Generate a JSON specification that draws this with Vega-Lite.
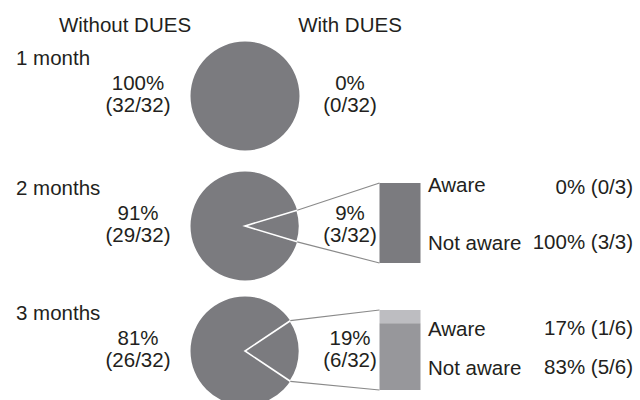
{
  "$schema": "https://vega.github.io/schema/vega-lite/v6.json",
  "width": 640,
  "height": 400,
  "autosize": "none",
  "padding": 0,
  "background": "white",
  "config": {
    "view": {"stroke": null},
    "text": {"font": "Liberation Sans", "fontSize": 20.5, "baseline": "alphabetic", "color": "#231f20"}
  },
  "datasets": {
    "dues": [
      {"month": 1, "period": "1 month", "group": "Without DUES", "n": 32, "total": 32},
      {"month": 1, "period": "1 month", "group": "With DUES", "n": 0, "total": 32},
      {"month": 2, "period": "2 months", "group": "Without DUES", "n": 29, "total": 32},
      {"month": 2, "period": "2 months", "group": "With DUES", "n": 3, "total": 32},
      {"month": 3, "period": "3 months", "group": "Without DUES", "n": 26, "total": 32},
      {"month": 3, "period": "3 months", "group": "With DUES", "n": 6, "total": 32}
    ],
    "aware": [
      {"month": 2, "group": "With DUES", "status": "Aware", "n": 0, "total": 3},
      {"month": 2, "group": "With DUES", "status": "Not aware", "n": 3, "total": 3},
      {"month": 3, "group": "With DUES", "status": "Aware", "n": 1, "total": 6},
      {"month": 3, "group": "With DUES", "status": "Not aware", "n": 5, "total": 6}
    ]
  },
  "resolve": {"scale": {"y": "independent", "color": "independent"}},
  "layer": [
    {
      "data": {"name": "dues"},
      "resolve": {"scale": {"theta": "independent"}},
      "encoding": {
        "x": {"field": "group", "type": "nominal", "axis": null,
              "scale": {"type": "point", "domain": ["Without DUES", "With DUES"], "range": [138, 350], "padding": 0}},
        "y": {"field": "month", "type": "quantitative", "axis": null,
              "scale": {"domain": [1, 2, 3], "range": [96, 226, 351], "zero": false, "nice": false}}
      },
      "layer": [
        {
          "transform": [{"filter": "datum.group == 'Without DUES'"}],
          "mark": {"type": "point", "shape": "circle", "filled": true, "size": 11881, "color": "#7b7b7f", "opacity": 1, "strokeWidth": 0, "xOffset": 107}
        },
        {
          "transform": [
            {"filter": "datum.group == 'With DUES' && datum.month == 2"},
            {"stack": "n", "groupby": ["month"], "as": ["a0", "a1"]}
          ],
          "mark": {"type": "arc", "radius": 54.5, "color": "#7b7b7f", "stroke": "white", "strokeWidth": 1.6, "xOffset": -105},
          "encoding": {
            "theta": {"field": "a0", "type": "quantitative", "scale": {"domain": [-6.5, 25.5], "range": [0, 6.283185], "zero": false, "nice": false}},
            "theta2": {"field": "a1"}
          }
        },
        {
          "transform": [
            {"filter": "datum.group == 'With DUES' && datum.month == 3"},
            {"stack": "n", "groupby": ["month"], "as": ["a0", "a1"]}
          ],
          "mark": {"type": "arc", "radius": 54.5, "color": "#7b7b7f", "stroke": "white", "strokeWidth": 1.6, "xOffset": -105},
          "encoding": {
            "theta": {"field": "a0", "type": "quantitative", "scale": {"domain": [-5, 27], "range": [0, 6.283185], "zero": false, "nice": false}},
            "theta2": {"field": "a1"}
          }
        },
        {
          "transform": [{"filter": "datum.group == 'With DUES' && datum.month == 2"}],
          "mark": {"type": "rule", "color": "#8a8a8a", "strokeWidth": 1.2, "xOffset": -52.8, "x2Offset": 29.5, "yOffset": -15.8, "y2Offset": -43},
          "encoding": {"x2": {"field": "group"}, "y2": {"field": "month"}}
        },
        {
          "transform": [{"filter": "datum.group == 'With DUES' && datum.month == 2"}],
          "mark": {"type": "rule", "color": "#8a8a8a", "strokeWidth": 1.2, "xOffset": -52.8, "x2Offset": 29.5, "yOffset": 15.8, "y2Offset": 37},
          "encoding": {"x2": {"field": "group"}, "y2": {"field": "month"}}
        },
        {
          "transform": [{"filter": "datum.group == 'With DUES' && datum.month == 3"}],
          "mark": {"type": "rule", "color": "#8a8a8a", "strokeWidth": 1.2, "xOffset": -59.7, "x2Offset": 29.5, "yOffset": -30.3, "y2Offset": -41},
          "encoding": {"x2": {"field": "group"}, "y2": {"field": "month"}}
        },
        {
          "transform": [{"filter": "datum.group == 'With DUES' && datum.month == 3"}],
          "mark": {"type": "rule", "color": "#8a8a8a", "strokeWidth": 1.2, "xOffset": -59.7, "x2Offset": 29.5, "yOffset": 30.3, "y2Offset": 39},
          "encoding": {"x2": {"field": "group"}, "y2": {"field": "month"}}
        },
        {
          "transform": [{"filter": "datum.month == 1 && datum.group == 'Without DUES'"}],
          "mark": {"type": "text", "dx": -13, "dy": -64},
          "encoding": {"text": {"field": "group"}}
        },
        {
          "transform": [{"filter": "datum.month == 1 && datum.group == 'With DUES'"}],
          "mark": {"type": "text", "dy": -64},
          "encoding": {"text": {"field": "group"}}
        },
        {
          "transform": [{"filter": "datum.group == 'Without DUES'"}],
          "mark": {"type": "text", "align": "left", "dx": -122, "dy": -31},
          "encoding": {"text": {"field": "period"}}
        },
        {
          "transform": [{"calculate": "format(datum.n / datum.total, '.0%')", "as": "pct"}],
          "mark": {"type": "text", "dy": -6},
          "encoding": {"text": {"field": "pct"}}
        },
        {
          "transform": [{"calculate": "'(' + datum.n + '/' + datum.total + ')'", "as": "frac"}],
          "mark": {"type": "text", "dy": 16},
          "encoding": {"text": {"field": "frac"}}
        },
        {
          "data": {"name": "aware"},
          "transform": [{"calculate": "format(datum.n / datum.total, '.0%') + ' (' + datum.n + '/' + datum.total + ')'", "as": "value"}],
          "layer": [
            {
              "transform": [{"filter": "datum.status == 'Not aware'"}],
              "mark": {"type": "text", "align": "left", "dx": 78, "dy": 24},
              "encoding": {"text": {"field": "status"}}
            },
            {
              "transform": [{"filter": "datum.status == 'Not aware'"}],
              "mark": {"type": "text", "align": "right", "dx": 283, "dy": 23},
              "encoding": {"text": {"field": "value"}}
            },
            {
              "transform": [{"filter": "datum.status == 'Aware' && datum.month == 2"}],
              "mark": {"type": "text", "align": "left", "dx": 78, "dy": -34},
              "encoding": {"text": {"field": "status"}}
            },
            {
              "transform": [{"filter": "datum.status == 'Aware' && datum.month == 2"}],
              "mark": {"type": "text", "align": "right", "dx": 283, "dy": -32},
              "encoding": {"text": {"field": "value"}}
            },
            {
              "transform": [{"filter": "datum.status == 'Aware' && datum.month == 3"}],
              "mark": {"type": "text", "align": "left", "dx": 78, "dy": -15},
              "encoding": {"text": {"field": "status"}}
            },
            {
              "transform": [{"filter": "datum.status == 'Aware' && datum.month == 3"}],
              "mark": {"type": "text", "align": "right", "dx": 283, "dy": -16},
              "encoding": {"text": {"field": "value"}}
            }
          ]
        }
      ]
    },
    {
      "data": {"name": "aware"},
      "transform": [{"filter": "datum.month == 2"}],
      "mark": {"type": "bar", "width": 41, "xOffset": 50, "color": "#7b7b7f"},
      "encoding": {
        "x": {"field": "group", "type": "nominal", "axis": null,
              "scale": {"type": "point", "domain": ["Without DUES", "With DUES"], "range": [138, 350], "padding": 0}},
        "y": {"field": "n", "type": "quantitative", "stack": "normalize", "axis": null,
              "scale": {"domain": [0, 1], "range": [183, 263], "zero": false, "nice": false}},
        "order": {"field": "status", "sort": "ascending"}
      }
    },
    {
      "data": {"name": "aware"},
      "transform": [{"filter": "datum.month == 3"}],
      "mark": {"type": "bar", "width": 41, "xOffset": 50},
      "encoding": {
        "x": {"field": "group", "type": "nominal", "axis": null,
              "scale": {"type": "point", "domain": ["Without DUES", "With DUES"], "range": [138, 350], "padding": 0}},
        "y": {"field": "n", "type": "quantitative", "stack": "normalize", "axis": null,
              "scale": {"domain": [0, 1], "range": [310, 390], "zero": false, "nice": false}},
        "color": {"field": "status", "type": "nominal", "legend": null,
                  "scale": {"domain": ["Aware", "Not aware"], "range": ["#bdbdc1", "#97979b"]}},
        "order": {"field": "status", "sort": "ascending"}
      }
    }
  ]
}
